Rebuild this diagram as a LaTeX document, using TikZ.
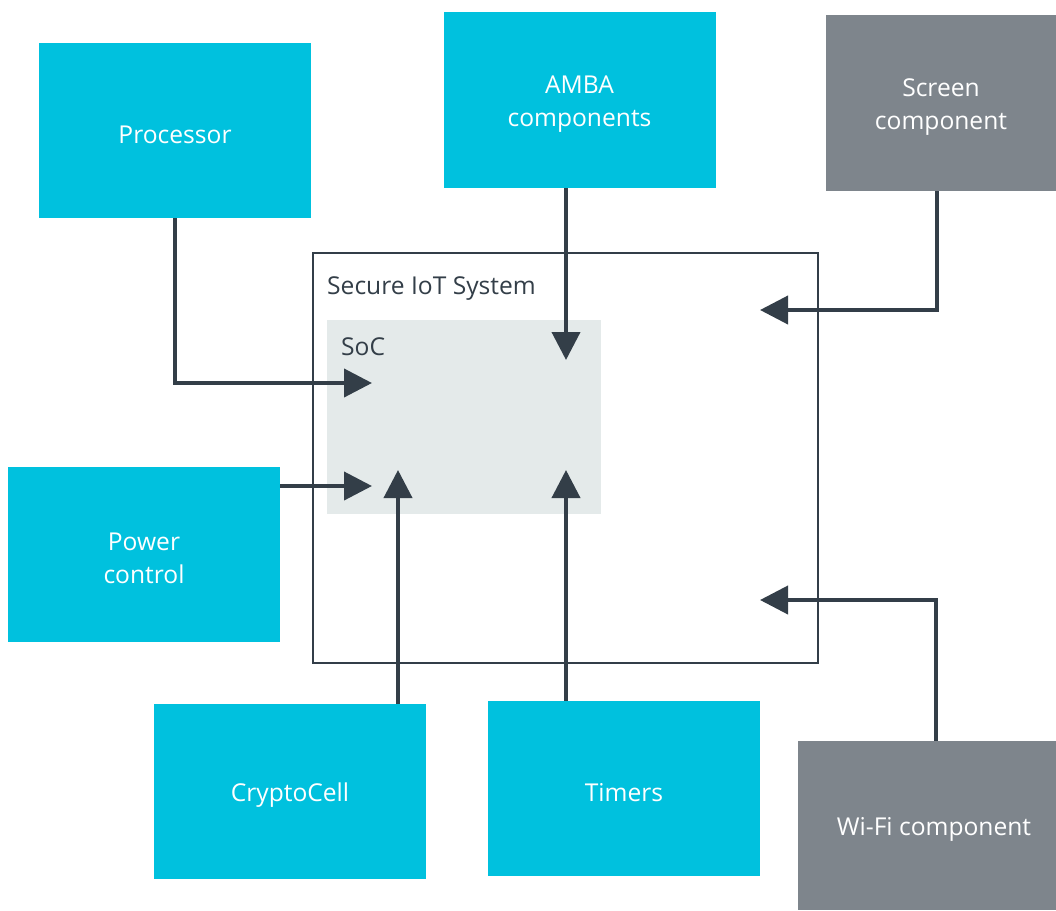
\documentclass[tikz,border=0pt]{standalone}
\usepackage{fontspec}
\setmainfont{Open Sans}
\usetikzlibrary{arrows.meta}
\definecolor{armcyan}{HTML}{00C1DE}
\definecolor{armgray}{HTML}{7E858C}
\definecolor{armdark}{HTML}{333E48}
\definecolor{socfill}{HTML}{E4EAEA}
\tikzset{
  comp/.style={rectangle, draw=none, fill=armcyan,
    minimum width=272pt, minimum height=175pt, inner sep=0pt},
  gcomp/.style={comp, fill=armgray},
  ctext/.style={text=white, align=center, inner sep=0pt, yshift=-4pt,
    font=\fontsize{24.6}{33.5}\selectfont},
  link/.style={draw=armdark, line width=4pt, -{Triangle[length=28pt,width=28pt]}},
  lbl/.style={text=armdark, anchor=west, inner sep=0pt, font=\fontsize{24.6}{33}\selectfont}
}
\begin{document}
\begin{tikzpicture}[x=1pt,y=-1pt]
\useasboundingbox (0,0) rectangle (1056,910);
% containers
\node[draw=armdark, line width=1.3pt, minimum width=505pt, minimum height=410pt, inner sep=0pt] (iot) at (565.5,458) {};
\node[fill=socfill, minimum width=274pt, minimum height=194pt, inner sep=0pt] (soc) at (464,417) {};
\node[lbl] (iotl) at (327,289) {Secure IoT System};
\node[lbl] (socl) at (341,347) {SoC};
% components
\node[comp, label={[ctext]center:Processor}] (proc) at (175,130.5) {};
\node[comp, minimum height=176pt, label={[ctext]center:{AMBA\\components}}] (amba) at (579.5,100) {};
\node[gcomp, minimum width=230pt, minimum height=176pt, label={[ctext]center:{Screen\\component}}] (screen) at (941,103) {};
\node[comp, label={[ctext]center:{Power\\control}}] (power) at (144,554.5) {};
\node[comp, label={[ctext]center:CryptoCell}] (crypto) at (290,791.5) {};
\node[comp, label={[ctext]center:Timers}] (timers) at (624,788.5) {};
\node[gcomp, minimum width=258pt, minimum height=169pt, label={[ctext,xshift=7pt]center:Wi-Fi component}] (wifi) at (927,825.5) {};
% arrow tips
\coordinate (tproc) at (372,383);
\coordinate (tamba) at (566,360);
\coordinate (tscreen) at (760,310);
\coordinate (tpower) at (372,486);
\coordinate (tcrypto) at (398,470);
\coordinate (ttimers) at (566,470);
\coordinate (twifi) at (760,600);
% connectors
\draw[link] (proc.south) |- (tproc);
\draw[link] (amba.south -| tamba) -- (tamba);
\draw[link] (screen.south -| 937,0) |- (tscreen);
\draw[link] (power.east |- tpower) -- (tpower);
\draw[link] (crypto.north -| tcrypto) -- (tcrypto);
\draw[link] (timers.north -| ttimers) -- (ttimers);
\draw[link] (wifi.north -| 936,0) |- (twifi);
\end{tikzpicture}
\end{document}
